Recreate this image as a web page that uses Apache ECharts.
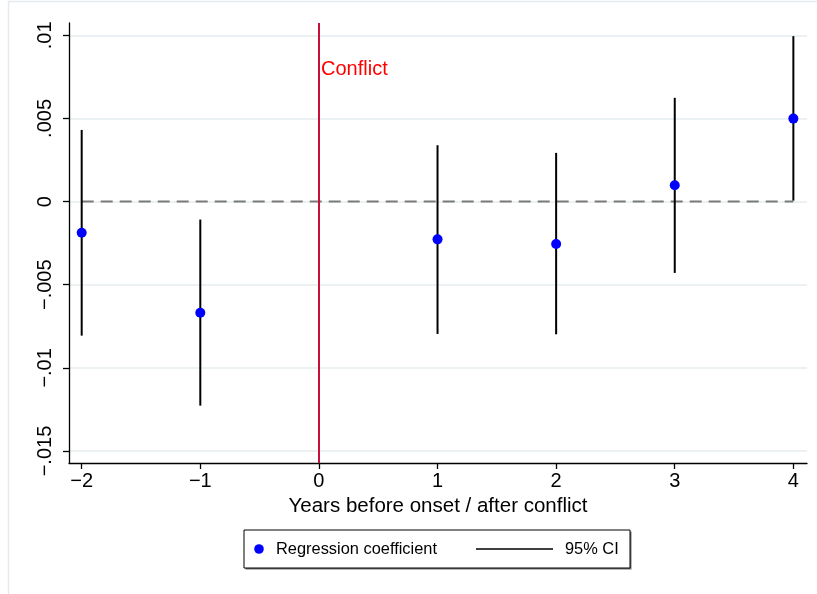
<!DOCTYPE html>
<html>
<head>
<meta charset="utf-8">
<script src="https://cdn.jsdelivr.net/npm/echarts@6/dist/echarts.min.js"></script>
<style>
  html, body { margin: 0; padding: 0; background: #ffffff; }
  #chart { width: 817px; height: 594px; }
</style>
</head>
<body>
<div id="chart"></div>
<script>
// Event-study estimates: years relative to conflict onset
const years = [-2, -1, 1, 2, 3, 4];
const coef = [-0.00187, -0.00668, -0.00227, -0.00255, 0.00098, 0.00499];
const ciLow = [-0.00806, -0.01227, -0.00796, -0.00798, -0.00429, 0.00006];
const ciHigh = [0.00431, -0.00108, 0.00339, 0.00293, 0.00624, 0.00995];

const xTicks = [-2, -1, 0, 1, 2, 3, 4];
const xTickLabels = ['\u22122', '\u22121', '0', '1', '2', '3', '4'];
const yTicks = [-0.015, -0.01, -0.005, 0, 0.005, 0.01];
const yTickLabels = ['\u2212.015', '\u2212.01', '\u2212.005', '0', '.005', '.01'];

const onsetYear = 0;
const zeroLineSpan = [-2, 4];

const FONT = '"Liberation Sans", Arial, Helvetica, sans-serif';

function labelFor(ticks, labels) {
  return function (v) {
    let best = 0;
    for (let i = 1; i < ticks.length; i++) {
      if (Math.abs(ticks[i] - v) < Math.abs(ticks[best] - v)) best = i;
    }
    return labels[best];
  };
}

const chart = echarts.init(document.getElementById('chart'), null, { renderer: 'canvas' });

const ciData = years.map((y, i) => [y, ciLow[i], ciHigh[i]]);
const pointData = years.map((y, i) => [y, coef[i]]);

chart.setOption({
  animation: false,
  backgroundColor: '#ffffff',
  grid: { left: 69, right: 10, top: 23, bottom: 131, containLabel: false },
  xAxis: {
    type: 'value',
    min: -2.107,
    max: 4.115,
    name: 'Years before onset / after conflict',
    nameLocation: 'middle',
    nameGap: 33,
    nameTextStyle: { fontFamily: FONT, fontSize: 20.5, color: '#000' },
    axisLine: { show: true, onZero: false, lineStyle: { color: '#000', width: 1.3 } },
    axisTick: { show: true, length: 6, customValues: xTicks, lineStyle: { color: '#000', width: 1.3 } },
    axisLabel: {
      customValues: xTicks,
      margin: 8,
      fontFamily: FONT, fontSize: 20, color: '#000',
      formatter: labelFor(xTicks, xTickLabels)
    },
    splitLine: { show: false }
  },
  yAxis: {
    type: 'value',
    min: -0.01572,
    max: 0.01074,
    axisLine: { show: true, onZero: false, lineStyle: { color: '#000', width: 1.3 } },
    axisTick: { show: true, length: 6, customValues: yTicks, lineStyle: { color: '#000', width: 1.3 } },
    axisLabel: {
      customValues: yTicks,
      rotate: 90,
      margin: 14,
      fontFamily: FONT, fontSize: 20, color: '#000',
      formatter: labelFor(yTicks, yTickLabels)
    },
    splitLine: { show: true, lineStyle: { color: '#e6eef0', width: 1.5 } }
  },
  series: [
    {
      // reference line at zero plus onset marker
      type: 'line',
      data: zeroLineSpan.map(x => [x, 0]),
      symbol: 'none',
      silent: true,
      z: 1,
      lineStyle: { color: '#7a7a7a', width: 2, type: [12, 7] },
      markLine: {
        silent: true,
        symbol: 'none',
        animation: false,
        label: { show: false },
        lineStyle: { color: '#c8103f', width: 2, type: 'solid' },
        data: [{ xAxis: onsetYear }]
      }
    },
    {
      // 95% confidence intervals
      type: 'custom',
      data: ciData,
      z: 2,
      renderItem: function (params, api) {
        const p0 = api.coord([api.value(0), api.value(1)]);
        const p1 = api.coord([api.value(0), api.value(2)]);
        return {
          type: 'line',
          shape: { x1: p0[0], y1: p0[1], x2: p1[0], y2: p1[1] },
          style: { stroke: '#000', lineWidth: 2 }
        };
      }
    },
    {
      // point estimates
      type: 'scatter',
      data: pointData,
      symbol: 'circle',
      symbolSize: 10,
      z: 3,
      itemStyle: { color: '#0000ff', opacity: 1 }
    }
  ],
  graphic: [
    // outer frame
    {
      type: 'rect', silent: true, z: -10,
      shape: { x: 8.5, y: 1.5, width: 830, height: 620 },
      style: { fill: null, stroke: '#e3ebee', lineWidth: 1.5 }
    },
    // onset annotation
    {
      type: 'text', silent: true,
      style: { text: 'Conflict', x: 321, y: 69, verticalAlign: 'middle', fill: '#ff0000', font: '20px ' + FONT }
    },
    // legend box with shadow
    {
      type: 'rect', silent: true,
      shape: { x: 245.5, y: 531.5, width: 386, height: 38 },
      style: { fill: '#707070', stroke: null }
    },
    {
      type: 'rect', silent: true,
      shape: { x: 244, y: 530, width: 386, height: 38 },
      style: { fill: '#ffffff', stroke: '#000', lineWidth: 1 }
    },
    {
      type: 'circle', silent: true,
      shape: { cx: 259, cy: 549, r: 4.8 },
      style: { fill: '#0000ff' }
    },
    {
      type: 'text', silent: true,
      style: { text: 'Regression coefficient', x: 276, y: 549, verticalAlign: 'middle', fill: '#000', font: '16.4px ' + FONT }
    },
    {
      type: 'line', silent: true,
      shape: { x1: 476, y1: 549, x2: 553, y2: 549 },
      style: { stroke: '#000', lineWidth: 1.5 }
    },
    {
      type: 'text', silent: true,
      style: { text: '95% CI', x: 565, y: 549, verticalAlign: 'middle', fill: '#000', font: '16.4px ' + FONT }
    }
  ]
});
</script>
</body>
</html>
